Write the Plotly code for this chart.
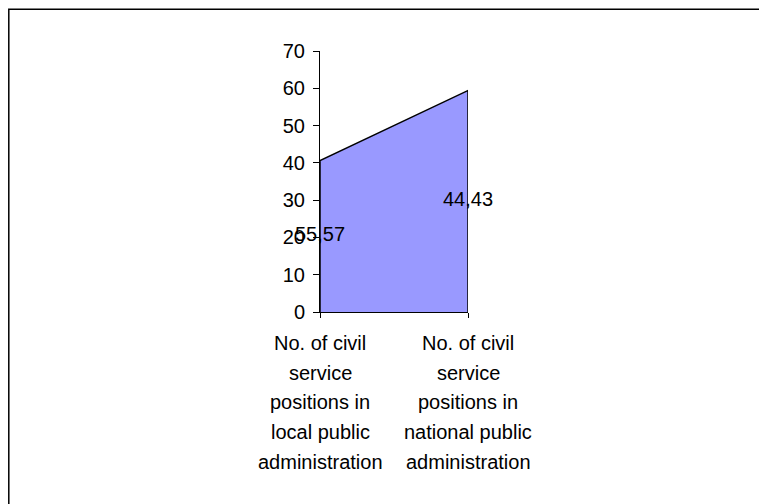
import plotly.graph_objects as go

categories = [
    ["No. of civil", "service", "positions in", "local public", "administration"],
    ["No. of civil", "service", "positions in", "national public", "administration"],
]
values = [40.6, 59.4]
data_labels = ["55,57", "44,43"]
y_ticks = [0, 10, 20, 30, 40, 50, 60, 70]

FONT = "Liberation Sans, Arial, sans-serif"
FS = 20

# page body adds an 8px offset; plot area spans 312..460 x 43..304 in figure pixels
L, R, T, B = 312, 460, 43, 304
W, H = 767, 504
PW, PH = R - L, B - T

xs = list(range(len(values)))
fig = go.Figure()
fig.add_trace(go.Scatter(
    x=[xs[0]] + xs + [xs[-1]],
    y=[0] + values + [0],
    mode="lines",
    fill="toself",
    fillcolor="#9999FF",
    line=dict(color="black", width=1.5),
    hoverinfo="skip",
    showlegend=False,
))
fig.add_trace(go.Scatter(
    x=xs,
    y=[v / 2 for v in values],
    mode="text",
    text=data_labels,
    textposition="middle center",
    textfont=dict(family=FONT, size=FS, color="black"),
    cliponaxis=False,
    showlegend=False,
    hoverinfo="skip",
))

annotations = []
for i, lines in enumerate(categories):
    for j, line in enumerate(lines):
        annotations.append(dict(
            x=xs[i], y=0, xref="x", yref="y",
            text=line, showarrow=False,
            xanchor="center", yanchor="middle",
            yshift=-(31 + j * 29.7),
            font=dict(family=FONT, size=FS, color="black"),
        ))

fig.update_layout(
    width=W, height=H,
    margin=dict(l=L, r=W - R, t=T, b=H - B, pad=0),
    paper_bgcolor="white",
    plot_bgcolor="white",
    annotations=annotations,
    shapes=[dict(
        type="rect", xref="paper", yref="paper",
        x0=(0.8 - L) / PW, x1=(W + 20 - L) / PW,
        y0=(B - (H + 20)) / PH, y1=(B - 1.2) / PH,
        line=dict(color="black", width=1.5),
        fillcolor="rgba(0,0,0,0)",
        layer="below",
    )],
    xaxis=dict(
        range=[0, 1], tickvals=xs, ticktext=["", ""],
        showgrid=False, zeroline=False,
        showline=True, linecolor="black", linewidth=1,
        ticks="outside", ticklen=5, tickcolor="black",
    ),
    yaxis=dict(
        range=[0, 70], tickvals=y_ticks,
        showgrid=False, zeroline=False,
        showline=True, linecolor="black", linewidth=1,
        ticks="outside", ticklen=6, tickcolor="black",
        tickfont=dict(family=FONT, size=FS, color="black"),
        ticklabelstandoff=4,
    ),
)

fig.write_html("out.html")
